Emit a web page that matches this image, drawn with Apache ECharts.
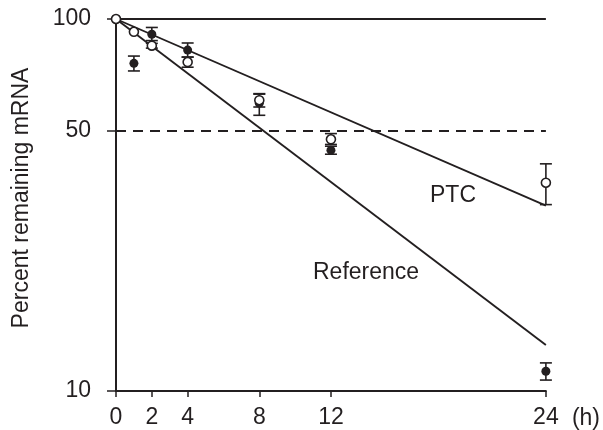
<!DOCTYPE html>
<html><head><meta charset="utf-8">
<script src="https://cdn.jsdelivr.net/npm/echarts@6/dist/echarts.min.js"></script>
<style>html,body{margin:0;padding:0;background:#fff}#c{width:603px;height:430px}</style>
</head><body><div id="c"></div>
<script>
const times = [0, 1, 2, 4, 8, 12, 24];
const xTickValues = [0, 2, 4, 8, 12, 24];
const yTickValues = [10, 50, 100];
const refMean = [100, 76, 91, 82.5, 59.4, 44.4, 11.3];
const refLow  = [null, 72.5, 87.5, 79, 55.1, 43.3, 10.7];
const refHigh = [null, 79.5, 94.9, 86.2, 63, 45.5, 11.9];
const ptcMean = [100, 92.4, 84.8, 76.6, 60.5, 47.5, 36.3];
const ptcLow  = [null, null, 83.5, 74.2, 58, 46, 31.7];
const ptcHigh = [null, null, 86, 79, 62.8, 49.2, 40.8];
const fitTimes = [0, 24];
const ptcFit = [100, 31.5];
const refFit = [100, 13.3];
const halfLine = 50;
const topLine = 100;

const C = '#231f20';
const FONT = 'Liberation Sans, Arial, sans-serif';
const FS = 23;

function pairs(xs, ys) { return xs.map((x, i) => [x, ys[i]]); }
function bars(lo, hi) {
  return times.map((t, i) => lo[i] != null ? [t, lo[i], hi[i]] : null).filter(Boolean);
}
function errRender(params, api) {
  const x = api.value(0), lo = api.value(1), hi = api.value(2);
  const p1 = api.coord([x, hi]), p2 = api.coord([x, lo]);
  const w = 6;
  const st = { stroke: C, lineWidth: 1.6 };
  return { type: 'group', children: [
    { type: 'line', shape: { x1: p1[0], y1: p1[1], x2: p2[0], y2: p2[1] }, style: st },
    { type: 'line', shape: { x1: p1[0] - w, y1: p1[1], x2: p1[0] + w, y2: p1[1] }, style: st },
    { type: 'line', shape: { x1: p2[0] - w, y1: p2[1], x2: p2[0] + w, y2: p2[1] }, style: st }
  ]};
}

const chart = echarts.init(document.getElementById('c'), null, { renderer: 'canvas' });
chart.setOption({
  backgroundColor: '#fff',
  animation: false,
  textStyle: { fontFamily: FONT, color: C },
  grid: { left: 116, right: 56, top: 19, bottom: 39, containLabel: false },
  xAxis: {
    type: 'value', min: 0, max: 24,
    name: '(h)', nameLocation: 'end', nameGap: 26,
    nameTextStyle: { fontSize: FS, color: C, fontFamily: FONT, verticalAlign: 'top', align: 'left', padding: [16, 0, 0, 0] },
    axisLine: { show: true, onZero: false, lineStyle: { color: C, width: 2 } },
    axisTick: { show: true, length: 6, customValues: xTickValues, lineStyle: { color: C, width: 1.5 } },
    axisLabel: { customValues: xTickValues, fontSize: FS, color: C, fontFamily: FONT, margin: 15 },
    splitLine: { show: false }
  },
  yAxis: {
    type: 'log', logBase: 10, min: 10, max: 100,
    name: 'Percent remaining mRNA', nameLocation: 'middle', nameGap: 83,
    nameTextStyle: { fontSize: FS, color: C, fontFamily: FONT, padding: [0, 0, 0, 14] },
    axisLine: { show: true, onZero: false, lineStyle: { color: C, width: 2 } },
    axisTick: { show: true, length: 9, customValues: yTickValues, lineStyle: { color: C, width: 1.5 } },
    axisLabel: { customValues: yTickValues, fontSize: FS, color: C, fontFamily: FONT, margin: 25 },
    splitLine: { show: false }
  },
  graphic: [
    { type: 'text', left: 430, top: 184, style: { text: 'PTC', fontSize: FS, fontFamily: FONT, fill: C } },
    { type: 'text', left: 313, top: 261, style: { text: 'Reference', fontSize: FS, fontFamily: FONT, fill: C } }
  ],
  series: [
    {
      type: 'line', data: pairs(fitTimes, ptcFit), symbol: 'none', silent: true,
      lineStyle: { color: C, width: 1.9 }, z: 2,
      markLine: {
        silent: true, symbol: 'none', label: { show: false },
        data: [
          { yAxis: halfLine, lineStyle: { color: C, width: 2, type: [10, 7] } },
          { yAxis: topLine, lineStyle: { color: C, width: 2, type: 'solid' } }
        ]
      }
    },
    { type: 'line', data: pairs(fitTimes, refFit), symbol: 'none', silent: true, lineStyle: { color: C, width: 1.9 }, z: 2 },
    { type: 'custom', renderItem: errRender, data: bars(refLow, refHigh), encode: { x: 0, y: [1, 2] }, z: 3 },
    { type: 'custom', renderItem: errRender, data: bars(ptcLow, ptcHigh), encode: { x: 0, y: [1, 2] }, z: 3 },
    { type: 'scatter', data: pairs(times, refMean), symbol: 'circle', symbolSize: 9, itemStyle: { color: C, opacity: 1 }, z: 4 },
    { type: 'scatter', data: pairs(times, ptcMean), symbol: 'circle', symbolSize: 9, itemStyle: { color: '#fff', borderColor: C, borderWidth: 1.6, opacity: 1 }, z: 5 }
  ]
});
</script></body></html>
